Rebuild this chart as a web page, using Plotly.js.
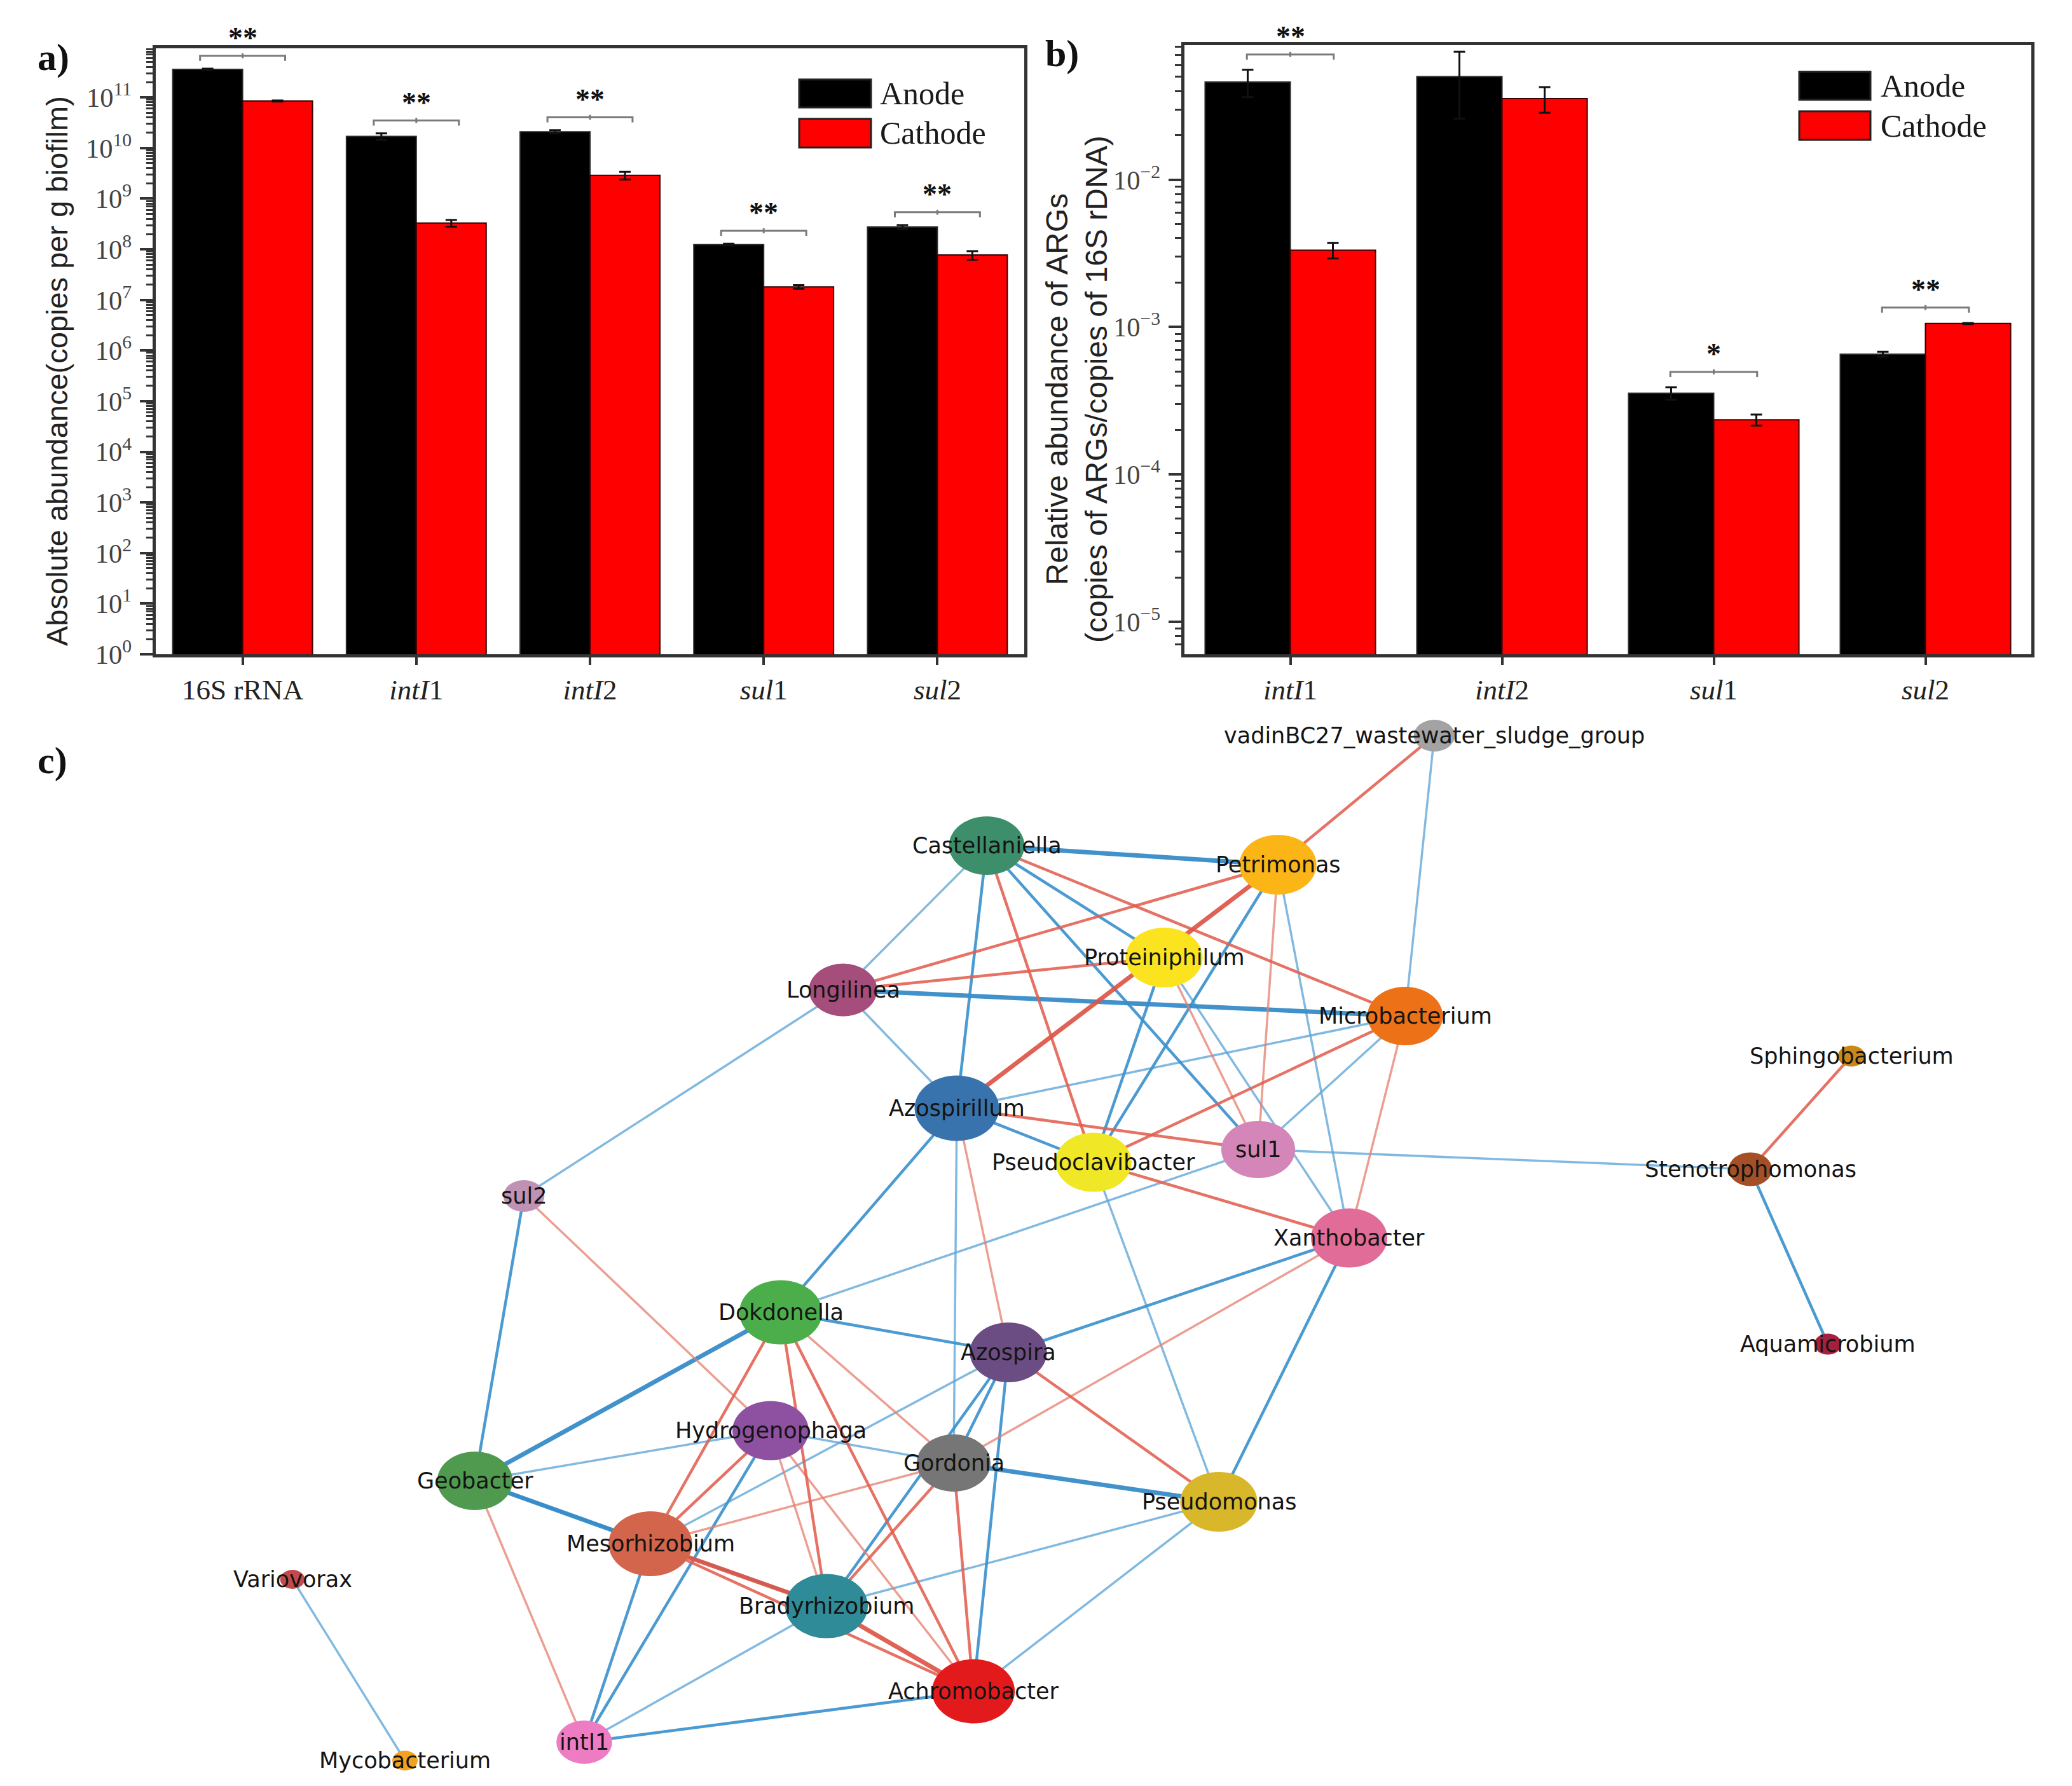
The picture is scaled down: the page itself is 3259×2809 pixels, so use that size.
<!DOCTYPE html>
<html><head><meta charset="utf-8">
<script src="https://cdn.plot.ly/plotly-3.0.1.min.js"></script>
<style>html,body{margin:0;padding:0;background:#fff;} #chart{width:3259px;height:2809px;}</style>
</head><body><div id="chart"></div>
<script>
// ---------- Panel a data ----------
const catsA = ['16S rRNA', '<i>intI</i>1', '<i>intI</i>2', '<i>sul</i>1', '<i>sul</i>2'];
const anodeA = [3.6e11, 1.7e10, 2.1e10, 1.24e8, 2.75e8];
const anodeAErr = [1.0e10, 2.5e9, 1.5e9, 5e6, 2.5e7];
const cathodeA = [8.5e10, 3.3e8, 2.9e9, 1.8e7, 7.7e7];
const cathodeAErr = [2e9, 5e7, 5e8, 1.5e6, 1.5e7];
const sigA = ['**', '**', '**', '**', '**'];
const tickExpA = [0,1,2,3,4,5,6,7,8,9,10,11];

// ---------- Panel b data ----------
const catsB = ['<i>intI</i>1', '<i>intI</i>2', '<i>sul</i>1', '<i>sul</i>2'];
const anodeB = [0.046, 0.050, 3.56e-4, 6.55e-4];
const anodeBErr = [0.0097, 0.024, 0.35e-4, 0.25e-4];
const cathodeB = [0.00332, 0.0355, 2.35e-4, 1.057e-3];
const cathodeBErr = [0.0004, 0.007, 0.2e-4, 0.1e-4];
const sigB = ['**', '', '*', '**'];

// ---------- Panel c network ----------
const nodeNames = ['vadinBC27_wastewater_sludge_group','Castellaniella','Petrimonas','Proteiniphilum','Longilinea',
  'Microbacterium','Sphingobacterium','Azospirillum','Pseudoclavibacter','sul1','Stenotrophomonas','sul2',
  'Xanthobacter','Dokdonella','Azospira','Aquamicrobium','Hydrogenophaga','Gordonia','Geobacter','Pseudomonas',
  'Mesorhizobium','Variovorax','Bradyrhizobium','Achromobacter','intI1','Mycobacterium'];
const nodeX = [2256,1552,2010,1831,1326,2210,2912,1505,1720,1979,2753,824,2122,1228,1586,2875,1212,1500,747,1917,1023,460,1300,1531,919,637];
const nodeY = [1157,1330,1360,1506,1557,1598,1661,1743,1828,1808,1839,1881,1947,2064,2127,2114,2250,2301,2329,2362,2428,2484,2526,2660,2740,2769];
const nodeSize = [50,92,94,94,83,92,33,103,93,90,53,50,93,101,94,33,93,90,92,94,102,30,101,101,68,31];
const nodeColors = ['#a3a3a3','#3c8f6a','#fbb517','#fbe41f','#a54d7b','#ec7117','#c88916','#3873ad','#f0e826','#d386b7',
  '#a54f26','#bf92b4','#e06c97','#4bae4a','#6c4d83','#a5203f','#8e50a0','#767676','#509a50','#d8b82a',
  '#d2654b','#c24a4a','#2f8b97','#e31a1c','#ee7cc3','#f1a21f'];

const edgeFrom = ['Castellaniella','Castellaniella','Castellaniella','Castellaniella','Castellaniella','Castellaniella','Castellaniella',
  'Petrimonas','Petrimonas','Petrimonas','Petrimonas','Petrimonas','Petrimonas',
  'Proteiniphilum','Proteiniphilum','Proteiniphilum','Proteiniphilum',
  'Longilinea','Longilinea','Longilinea',
  'Microbacterium','Microbacterium','Microbacterium','Microbacterium','Microbacterium',
  'Azospirillum','Azospirillum','Azospirillum','Azospirillum','Azospirillum',
  'Pseudoclavibacter','Pseudoclavibacter','sul1','sul1',
  'Xanthobacter','Xanthobacter','Xanthobacter',
  'Dokdonella','Dokdonella','Dokdonella','Dokdonella','Dokdonella','Dokdonella',
  'Hydrogenophaga','Hydrogenophaga','Hydrogenophaga','Hydrogenophaga','Hydrogenophaga','Hydrogenophaga','Hydrogenophaga',
  'Gordonia','Gordonia','Azospira','Gordonia','Gordonia','Gordonia',
  'Azospira','Azospira','Azospira',
  'Geobacter','Geobacter','Geobacter','Geobacter',
  'Mesorhizobium','Mesorhizobium','Mesorhizobium',
  'Bradyrhizobium','Bradyrhizobium','Bradyrhizobium',
  'Achromobacter','Achromobacter',
  'Variovorax','Stenotrophomonas','Stenotrophomonas'];
const edgeTo = ['Petrimonas','Longilinea','Azospirillum','Pseudoclavibacter','sul1','Proteiniphilum','Microbacterium',
  'vadinBC27_wastewater_sludge_group','Longilinea','Azospirillum','Pseudoclavibacter','sul1','Xanthobacter',
  'Longilinea','Pseudoclavibacter','sul1','Xanthobacter',
  'Microbacterium','Azospirillum','sul2',
  'vadinBC27_wastewater_sludge_group','Azospirillum','Pseudoclavibacter','sul1','Xanthobacter',
  'sul1','Pseudoclavibacter','Dokdonella','Gordonia','Azospira',
  'Xanthobacter','Pseudomonas','Stenotrophomonas','Dokdonella',
  'Azospira','Gordonia','Pseudomonas',
  'Geobacter','Azospira','Mesorhizobium','Bradyrhizobium','Achromobacter','Gordonia',
  'sul2','Geobacter','Mesorhizobium','intI1','Bradyrhizobium','Achromobacter','Gordonia',
  'Azospira','Pseudomonas','Bradyrhizobium','Bradyrhizobium','Achromobacter','Mesorhizobium',
  'Achromobacter','Pseudomonas','Mesorhizobium',
  'sul2','Mesorhizobium','Bradyrhizobium','intI1',
  'Bradyrhizobium','Achromobacter','intI1',
  'intI1','Pseudomonas','Achromobacter',
  'intI1','Pseudomonas',
  'Mycobacterium','Sphingobacterium','Aquamicrobium'];
const edgeSign = ['neg','neg','neg','pos','neg','neg','pos',
  'pos','pos','pos','neg','pos','neg',
  'pos','neg','pos','neg',
  'neg','neg','neg',
  'neg','neg','pos','neg','pos',
  'pos','neg','neg','neg','pos',
  'pos','neg','neg','neg',
  'neg','pos','neg',
  'neg','neg','pos','pos','pos','pos',
  'pos','neg','pos','neg','pos','pos','neg',
  'neg','neg','neg','pos','pos','pos',
  'neg','pos','neg',
  'neg','neg','neg','pos',
  'pos','pos','neg',
  'neg','neg','pos',
  'neg','neg',
  'neg','pos','neg'];
const edgeWeight = [3,1,2,2,2,2,2,
  2,2,3,2,1,1,
  2,2,1,1,
  3,1,1,
  1,1,2,1,1,
  2,2,2,1,1,
  2,1,1,1,
  2,1,2,
  3,2,2,2,2,1,
  1,1,2,2,1,1,1,
  2,3,2,2,2,1,
  2,2,1,
  2,3,2,1,
  3,2,2,
  1,1,3,
  2,1,
  1,2,2];

// ---------- helpers ----------
const W = 3259, H = 2809;
const px = v => v / W, py = v => 1 - v / H;
const serif = 'Times New Roman, Liberation Serif, serif';
const sans = 'Arial, Liberation Sans, sans-serif';
const rangeA = [0, 11.97], rangeB = [-5.22, -1.087];

const traces = [];
const annotations = [];

function barPanel(cats, anode, anodeErr, cathode, cathodeErr, xa, ya) {
  const xs = cats.map((c, i) => i);
  traces.push({type:'bar', x:xs, y:anode, name:'Anode', xaxis:xa, yaxis:ya,
    marker:{color:'#000000', line:{color:'#2a2a2a', width:2}},
    error_y:{type:'data', array:anodeErr, visible:true, color:'#111', thickness:3, width:9}, hoverinfo:'skip'});
  traces.push({type:'bar', x:xs, y:cathode, name:'Cathode', xaxis:xa, yaxis:ya,
    marker:{color:'#ff0000', line:{color:'#3a0000', width:2}},
    error_y:{type:'data', array:cathodeErr, visible:true, color:'#111', thickness:3, width:9}, hoverinfo:'skip'});
}
barPanel(catsA, anodeA, anodeAErr, cathodeA, cathodeAErr, 'x', 'y');
barPanel(catsB, anodeB, anodeBErr, cathodeB, cathodeBErr, 'x2', 'y2');

function sigPanel(sig, anode, anodeErr, cathode, cathodeErr, xa, ya, rng, half, upF, endF, midF, starF) {
  const bx = [], by = [];
  sig.forEach((s, i) => {
    if (!s) return;
    const top = Math.max(anode[i] + anodeErr[i], cathode[i] + cathodeErr[i]);
    const yb = top * upF;
    bx.push(i - half, i - half, i + half, i + half, null, i, i, null);
    by.push(yb / endF, yb, yb, yb / endF, null, yb / midF, yb * midF, null);
    // star label placed in axis-domain units so it may sit above the plot area
    const fy = (Math.log10(yb * starF) - rng[0]) / (rng[1] - rng[0]);
    annotations.push({text:s, x:i, y:fy, xref:xa, yref:ya + ' domain', showarrow:false,
      xanchor:'center', yanchor:'middle', font:{family:serif, size:46, color:'#111', weight:'bold'}});
  });
  traces.push({type:'scatter', mode:'lines', x:bx, y:by, xaxis:xa, yaxis:ya,
    line:{color:'#7a7a7a', width:3}, hoverinfo:'skip', cliponaxis:false});
}
sigPanel(sigA, anodeA, anodeAErr, cathodeA, cathodeAErr, 'x', 'y', rangeA, 0.245, 1.8, 1.26, 1.12, 2.25);
sigPanel(sigB, anodeB, anodeBErr, cathodeB, cathodeBErr, 'x2', 'y2', rangeB, 0.205, 1.27, 1.083, 1.04, 1.32);

// network edges grouped by style
const edgeStyles = {
  'neg1': {color:'rgba(95,165,215,0.78)', width:3.5},
  'neg2': {color:'rgba(60,145,205,0.92)', width:4.5},
  'neg3': {color:'rgba(55,140,200,0.95)', width:7},
  'pos1': {color:'rgba(230,125,110,0.75)', width:3.5},
  'pos2': {color:'rgba(225,95,80,0.88)', width:4.5},
  'pos3': {color:'rgba(220,85,70,0.92)', width:7}
};
const idx = {};
nodeNames.forEach((n, i) => idx[n] = i);
Object.keys(edgeStyles).forEach(key => {
  const ex = [], ey = [];
  edgeFrom.forEach((f, k) => {
    if (edgeSign[k] + edgeWeight[k] !== key) return;
    const a = idx[f], b = idx[edgeTo[k]];
    ex.push(nodeX[a], nodeX[b], null);
    ey.push(nodeY[a], nodeY[b], null);
  });
  traces.push({type:'scatter', mode:'lines', x:ex, y:ey, xaxis:'x3', yaxis:'y3',
    line:edgeStyles[key], hoverinfo:'skip'});
});

// node ellipses (the figure is horizontally stretched)
const stretch = 1.29;
const shapes = [];
nodeNames.forEach((n, i) => {
  const w = nodeSize[i] * stretch, h = nodeSize[i];
  shapes.push({type:'circle', xref:'x3', yref:'y3', layer:'above',
    x0:nodeX[i] - w/2, x1:nodeX[i] + w/2, y0:nodeY[i] - h/2, y1:nodeY[i] + h/2,
    fillcolor:nodeColors[i], line:{width:0}});
});

// legend boxes
function legendBoxes(x0, x1, yA0, yA1, yC0, yC1) {
  shapes.push({type:'rect', xref:'paper', yref:'paper', x0:px(x0), x1:px(x1), y0:py(yA1), y1:py(yA0),
    fillcolor:'#000', line:{color:'#222', width:3}});
  shapes.push({type:'rect', xref:'paper', yref:'paper', x0:px(x0), x1:px(x1), y0:py(yC1), y1:py(yC0),
    fillcolor:'#ff0000', line:{color:'#222', width:3}});
}
legendBoxes(1257, 1370, 125, 169, 187, 232);
legendBoxes(2830, 2942, 113, 157, 175, 220);

function txt(text, x, y, font, extra) {
  annotations.push(Object.assign({text:text, x:px(x), y:py(y), xref:'paper', yref:'paper', showarrow:false,
    xanchor:'center', yanchor:'middle', font:font}, extra || {}));
}
const legFont = {family:serif, size:50, color:'#1a1a1a'};
txt('Anode', 1382, 147, legFont, {xanchor:'left'});
txt('Cathode', 1382, 209, legFont, {xanchor:'left'});
txt('Anode', 2956, 135, legFont, {xanchor:'left'});
txt('Cathode', 2956, 198, legFont, {xanchor:'left'});
const panFont = {family:serif, size:60, color:'#111', weight:'bold'};
txt('a)', 84, 90, panFont);
txt('b)', 1670, 84, panFont);
txt('c)', 82, 1196, panFont);
txt('Absolute abundance(copies per g biofilm)', 89, 584, {family:sans, size:47, color:'#222'}, {textangle:-90});
txt('Relative abundance of ARGs<br>(copies of ARGs/copies of 16S rDNA)', 1693, 612, {family:sans, size:48, color:'#222'}, {textangle:-90});

nodeNames.forEach((n, i) => {
  annotations.push({text:n, x:nodeX[i], y:nodeY[i], xref:'x3', yref:'y3', showarrow:false,
    xanchor:'center', yanchor:'middle', font:{family:'DejaVu Sans, Arial, sans-serif', size:35, color:'#141414'}});
});

const aliasA = {};
tickExpA.forEach(e => { aliasA[e === 0 ? '1' : (e === 1 ? '10' : '10<sup>' + e + '</sup>')] = '10<sup>' + e + '</sup>'; });

function xAxis(dom, n, cats, anchor) {
  return {domain:dom, range:[-0.5, n - 0.5], tickmode:'array', tickvals:cats.map((c, i) => i), ticktext:cats,
    ticks:'outside', ticklen:12, tickwidth:4, tickcolor:'#333', showline:true, linewidth:5, linecolor:'#333',
    mirror:true, showgrid:false, zeroline:false, anchor:anchor, fixedrange:true, ticklabelstandoff:0,
    tickfont:{family:serif, size:45, color:'#222'}};
}
function yAxis(dom, rng, anchor, alias) {
  const a = {domain:dom, type:'log', range:rng, dtick:1, exponentformat:'power', ticks:'outside', ticklen:20,
    tickwidth:4, tickcolor:'#333', showline:true, linewidth:5, linecolor:'#333', mirror:true, showgrid:false,
    zeroline:false, anchor:anchor, fixedrange:true, ticklabelstandoff:6,
    minor:{dtick:'D1', ticks:'outside', ticklen:10, tickwidth:3, tickcolor:'#333', showgrid:false},
    tickfont:{family:serif, size:34, color:'#444'}};
  if (alias) a.labelalias = alias;
  return a;
}

const layout = {
  width:W, height:H, margin:{l:0, r:0, t:0, b:0}, paper_bgcolor:'#ffffff', plot_bgcolor:'rgba(0,0,0,0)',
  showlegend:false, barmode:'group', bargap:0.195, bargroupgap:0,
  xaxis: xAxis([px(245), px(1611)], catsA.length, catsA, 'y'),
  yaxis: yAxis([py(1029), py(76)], rangeA, 'x', aliasA),
  xaxis2: xAxis([px(1863), px(3195)], catsB.length, catsB, 'y2'),
  yaxis2: yAxis([py(1029), py(71)], rangeB, 'x2', null),
  xaxis3: {domain:[0, 1], range:[0, W], visible:false, anchor:'y3', fixedrange:true},
  yaxis3: {domain:[0, 1], range:[H, 0], visible:false, anchor:'x3', fixedrange:true},
  shapes:shapes, annotations:annotations
};

Plotly.newPlot('chart', traces, layout, {displayModeBar:false, staticPlot:true});
</script>
</body></html>
